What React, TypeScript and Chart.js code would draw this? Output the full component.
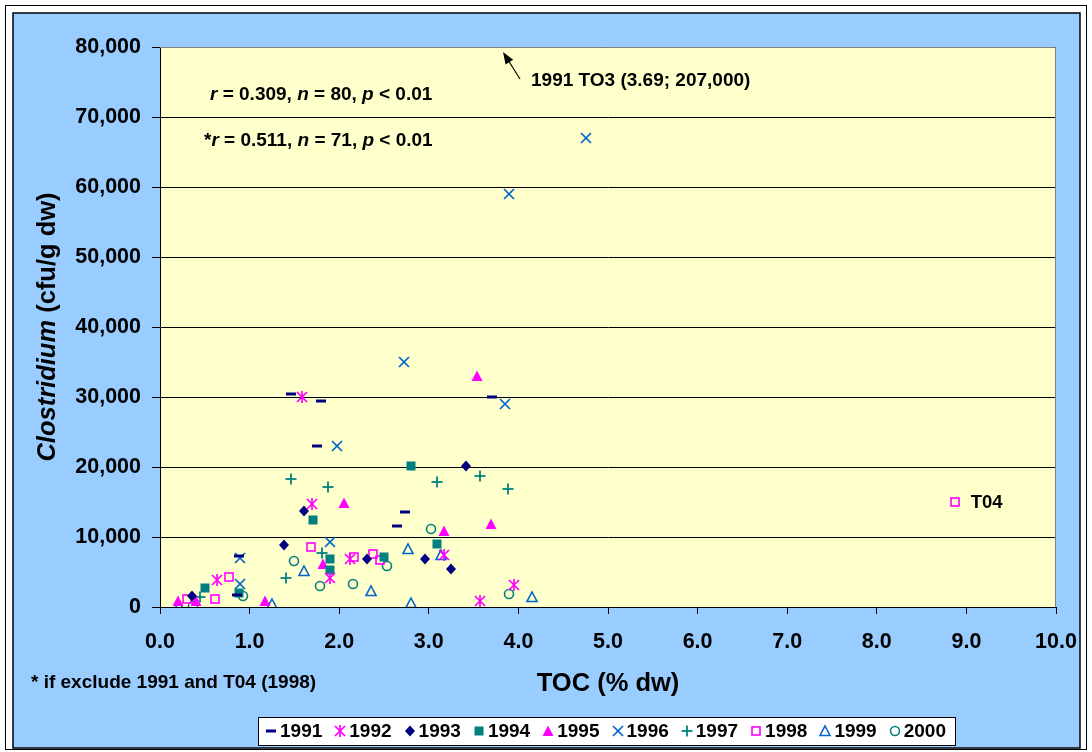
import { useEffect, useRef } from "react";
import { Chart, registerables } from "chart.js";

Chart.register(...registerables);

const W = 1092;
const H = 752;
const FONT = "'Liberation Sans', Arial, Helvetica, sans-serif";

// Sampling years (one scatter series each)
const years = ["1991", "1992", "1993", "1994", "1995", "1996", "1997", "1998", "1999", "2000"];

// TOC (% dw) and Clostridium (cfu/g dw) per year
const toc1991 = [1.46, 1.8, 1.75, 3.7, 2.73, 2.64, 0.88, 0.86];
const cfu1991 = [30400, 29400, 23000, 30000, 13600, 11600, 7300, 1700];

const toc1992 = [1.59, 1.7, 1.9, 0.64, 2.12, 3.17, 3.57, 3.95];
const cfu1992 = [30000, 14700, 4100, 3800, 6900, 7400, 800, 3100];

const toc1993 = [1.61, 1.38, 0.36, 2.31, 2.96, 3.25, 3.41];
const cfu1993 = [13700, 8900, 1600, 6900, 6900, 5500, 20100];

const toc1994 = [2.8, 1.71, 0.5, 0.88, 1.9, 1.9, 2.5, 3.09];
const cfu1994 = [20200, 12400, 2700, 2000, 6900, 5300, 7100, 9000];

const toc1995 = [3.54, 2.05, 3.17, 3.69, 1.82, 1.17, 0.2, 0.4];
const cfu1995 = [33000, 14900, 10800, 11900, 6100, 900, 900, 900];

const toc1996 = [4.75, 3.89, 2.72, 3.85, 1.98, 1.9, 0.89, 0.89];
const cfu1996 = [67000, 59000, 35000, 29000, 23000, 9300, 7000, 3300];

const toc1997 = [1.46, 1.88, 3.09, 3.57, 3.88, 1.41, 1.81, 0.45];
const cfu1997 = [18300, 17200, 17900, 18700, 16900, 4200, 7700, 1500];

const toc1998 = [8.87, 1.68, 0.77, 0.61, 0.3, 2.16, 2.38, 2.45];
const cfu1998 = [15000, 8600, 4300, 1200, 1200, 7100, 7600, 6700];

const toc1999 = [2.77, 1.61, 2.36, 2.8, 3.14, 4.15, 1.25, 0.21];
const cfu1999 = [8300, 5100, 2300, 600, 7400, 1500, 500, 200];

const toc2000 = [3.03, 1.5, 1.79, 2.15, 2.53, 3.9, 0.93, 0.37];
const cfu2000 = [11200, 6600, 3000, 3300, 5800, 1800, 1600, 200];

const tocSeries = [toc1991, toc1992, toc1993, toc1994, toc1995, toc1996, toc1997, toc1998, toc1999, toc2000];
const cfuSeries = [cfu1991, cfu1992, cfu1993, cfu1994, cfu1995, cfu1996, cfu1997, cfu1998, cfu1999, cfu2000];

const markerKinds = ["dash", "asterisk", "diamond", "square", "triangle", "cross", "plus", "openSquare", "openTriangle", "openCircle"];
const markerColors = ["#000080", "#FF00FF", "#000080", "#008080", "#FF00FF", "#0066CC", "#008080", "#FF00FF", "#0066CC", "#008080"];

// Axis ticks
const xTicks = [0, 1, 2, 3, 4, 5, 6, 7, 8, 9, 10];
const yTicks = [0, 10000, 20000, 30000, 40000, 50000, 60000, 70000, 80000];

// Text blocks
const xTitle = "TOC (% dw)";
const yTitleItalic = "Clostridium";
const yTitleRest = " (cfu/g dw)";
const footnote = "* if exclude 1991 and T04 (1998)";
const outlierNote = "1991 TO3 (3.69; 207,000)";
const t04Label = "T04";
const statsAll: [string, boolean][] = [["r", true], [" = 0.309, ", false], ["n", true], [" = 80, ", false], ["p", true], [" < 0.01", false]];
const statsSubset: [string, boolean][] = [["*", false], ["r", true], [" = 0.511, ", false], ["n", true], [" = 71, ", false], ["p", true], [" < 0.01", false]];

function makeMarker(kind: string, color: string): HTMLCanvasElement {
  const size = 16;
  const c = document.createElement("canvas");
  c.width = size;
  c.height = size;
  const g = c.getContext("2d") as CanvasRenderingContext2D;
  const m = size / 2;
  g.strokeStyle = color;
  g.fillStyle = color;
  g.lineWidth = 1.7;
  const line = (x1: number, y1: number, x2: number, y2: number) => {
    g.beginPath();
    g.moveTo(m + x1, m + y1);
    g.lineTo(m + x2, m + y2);
    g.stroke();
  };
  const poly = (pts: number[][], fill: boolean) => {
    g.beginPath();
    pts.forEach((p, i) => (i === 0 ? g.moveTo(m + p[0], m + p[1]) : g.lineTo(m + p[0], m + p[1])));
    g.closePath();
    if (fill) g.fill();
    else g.stroke();
  };
  switch (kind) {
    case "dash":
      g.fillRect(m - 5, m - 1.5, 10, 3);
      break;
    case "asterisk":
      line(-5, -5, 5, 5);
      line(-5, 5, 5, -5);
      line(0, -6, 0, 6);
      break;
    case "diamond":
      poly([[0, -5.5], [5, 0], [0, 5.5], [-5, 0]], true);
      break;
    case "square":
      g.fillRect(m - 4.5, m - 4.5, 9, 9);
      break;
    case "triangle":
      poly([[0, -5.5], [5.5, 5], [-5.5, 5]], true);
      break;
    case "cross":
      line(-5, -5, 5, 5);
      line(-5, 5, 5, -5);
      break;
    case "plus":
      g.lineWidth = 1.8;
      line(-5.5, 0, 5.5, 0);
      line(0, -5.5, 0, 5.5);
      break;
    case "openSquare":
      g.lineWidth = 1.6;
      g.strokeRect(m - 4, m - 4, 8, 8);
      break;
    case "openTriangle":
      g.lineWidth = 1.6;
      poly([[0, -5], [5, 4.5], [-5, 4.5]], false);
      break;
    case "openCircle":
      g.lineWidth = 1.6;
      g.beginPath();
      g.arc(m, m, 4.5, 0, Math.PI * 2);
      g.stroke();
      break;
  }
  return c;
}

function drawRich(
  ctx: CanvasRenderingContext2D,
  parts: [string, boolean][],
  x: number,
  y: number,
  size: number,
  align: "left" | "center" = "left"
) {
  const fontFor = (it: boolean) => `${it ? "italic " : ""}bold ${size}px ${FONT}`;
  let total = 0;
  for (const p of parts) {
    ctx.font = fontFor(p[1]);
    total += ctx.measureText(p[0]).width;
  }
  let cx = align === "center" ? x - total / 2 : x;
  ctx.textAlign = "left";
  ctx.textBaseline = "middle";
  ctx.fillStyle = "#000";
  for (const p of parts) {
    ctx.font = fontFor(p[1]);
    ctx.fillText(p[0], cx, y);
    cx += ctx.measureText(p[0]).width;
  }
}

export default function App() {
  const ref = useRef<HTMLCanvasElement>(null);

  useEffect(() => {
    const canvas = ref.current;
    if (!canvas) return;
    const markers = markerKinds.map((k, i) => makeMarker(k, markerColors[i]));

    const datasets = years.map((yr, i) => ({
      label: yr,
      data: tocSeries[i].map((x, j) => ({ x, y: cfuSeries[i][j] })),
      pointStyle: markers[i] as any,
      pointRadius: 5,
      pointHoverRadius: 5,
      showLine: false,
      borderColor: markerColors[i],
      backgroundColor: markerColors[i],
    }));

    const framePlugin = {
      id: "frame",
      beforeDraw(chart: any) {
        const ctx = chart.ctx as CanvasRenderingContext2D;
        const a = chart.chartArea;
        ctx.save();
        ctx.fillStyle = "#FFFFFF";
        ctx.fillRect(0, 0, W, H);
        ctx.strokeStyle = "#000";
        ctx.lineWidth = 1;
        ctx.strokeRect(5.5, 5.5, 1081, 744);
        ctx.fillStyle = "#99CCFF";
        ctx.fillRect(13, 13, 1067, 735);
        ctx.lineWidth = 1.5;
        ctx.strokeRect(13, 13, 1067, 735);
        ctx.fillStyle = "#FFFFCC";
        ctx.fillRect(a.left, a.top, a.right - a.left, a.bottom - a.top);
        ctx.restore();
      },
      beforeDatasetsDraw(chart: any) {
        const ctx = chart.ctx as CanvasRenderingContext2D;
        const a = chart.chartArea;
        ctx.save();
        ctx.strokeStyle = "#808080";
        ctx.lineWidth = 1;
        ctx.beginPath();
        ctx.moveTo(a.left, a.top + 0.5);
        ctx.lineTo(a.right - 0.5, a.top + 0.5);
        ctx.lineTo(a.right - 0.5, a.bottom);
        ctx.stroke();
        ctx.restore();
        ctx.imageSmoothingEnabled = false;
      },
      afterDraw(chart: any) {
        const ctx = chart.ctx as CanvasRenderingContext2D;
        const a = chart.chartArea;
        ctx.save();
        ctx.imageSmoothingEnabled = false;

        // axis titles
        drawRich(ctx, [[xTitle, false]], (a.left + a.right) / 2, 684, 25.5, "center");
        ctx.save();
        ctx.translate(48, 327);
        ctx.rotate(-Math.PI / 2);
        drawRich(ctx, [[yTitleItalic, true], [yTitleRest, false]], 0, 0, 25.5, "center");
        ctx.restore();

        // footnote and statistics
        drawRich(ctx, [[footnote, false]], 31, 683, 19);
        drawRich(ctx, statsAll, 210, 95, 19);
        drawRich(ctx, statsSubset, 204, 141, 19);

        // off-scale point note with arrow
        drawRich(ctx, [[outlierNote, false]], 531, 81, 19);
        const tail = { x: 520, y: 79 };
        const tip = { x: 503, y: 52 };
        const ang = Math.atan2(tip.y - tail.y, tip.x - tail.x);
        ctx.strokeStyle = "#000";
        ctx.fillStyle = "#000";
        ctx.lineWidth = 1.2;
        ctx.beginPath();
        ctx.moveTo(tail.x, tail.y);
        ctx.lineTo(tip.x - Math.cos(ang) * 8, tip.y - Math.sin(ang) * 8);
        ctx.stroke();
        ctx.beginPath();
        ctx.moveTo(tip.x, tip.y);
        ctx.lineTo(tip.x - Math.cos(ang) * 12 + Math.sin(ang) * 4.5, tip.y - Math.sin(ang) * 12 - Math.cos(ang) * 4.5);
        ctx.lineTo(tip.x - Math.cos(ang) * 12 - Math.sin(ang) * 4.5, tip.y - Math.sin(ang) * 12 + Math.cos(ang) * 4.5);
        ctx.closePath();
        ctx.fill();

        // label beside the 1998 T04 sample
        const meta = chart.getDatasetMeta(7);
        const pt = meta.data[0];
        drawRich(ctx, [[t04Label, false]], pt.x + 16, pt.y + 1, 18.5);

        // legend
        const lx = 258.5, ly = 717.5, lw = 697, lh = 28;
        ctx.fillStyle = "#FFFFFF";
        ctx.fillRect(lx, ly, lw, lh);
        ctx.strokeStyle = "#000";
        ctx.lineWidth = 1;
        ctx.strokeRect(lx, ly, lw, lh);
        const cy = 731;
        years.forEach((yr, i) => {
          const start = 264 + i * 69.3;
          const mk = markers[i];
          ctx.drawImage(mk, Math.round(start + 7 - mk.width / 2), Math.round(cy - mk.height / 2));
          drawRich(ctx, [[yr, false]], start + 16, cy + 0.5, 19);
        });
        ctx.restore();
      },
    };

    const tickFont = { family: FONT, size: 21.5, weight: "bold" as const };

    const chart = new Chart(canvas, {
      type: "scatter",
      data: { datasets },
      options: {
        responsive: false,
        animation: false,
        devicePixelRatio: 1,
        layout: { padding: { left: 14, top: 47, right: 36, bottom: 89 } },
        plugins: {
          legend: { display: false },
          tooltip: { enabled: false },
        },
        scales: {
          x: {
            type: "linear",
            min: 0,
            max: 10,
            afterBuildTicks: (s: any) => {
              s.ticks = xTicks.map((v) => ({ value: v }));
            },
            afterFit: (s: any) => {
              s.height = 56;
            },
            ticks: {
              callback: (v: any) => Number(v).toFixed(1),
              font: tickFont,
              color: "#000",
              padding: 15,
              maxRotation: 0,
              autoSkip: false,
            },
            grid: { drawOnChartArea: false, drawTicks: true, tickLength: 7, color: "#000", lineWidth: 1 },
            border: { color: "#000", width: 1 },
          },
          y: {
            type: "linear",
            min: 0,
            max: 80000,
            afterBuildTicks: (s: any) => {
              s.ticks = yTicks.map((v) => ({ value: v }));
            },
            afterFit: (s: any) => {
              s.width = 146;
            },
            ticks: {
              callback: (v: any) => Number(v).toLocaleString("en-US"),
              font: tickFont,
              color: "#000",
              padding: 11,
              autoSkip: false,
            },
            grid: { color: "#000", lineWidth: 1, tickLength: 8, drawTicks: true },
            border: { color: "#000", width: 1 },
          },
        },
      },
      plugins: [framePlugin],
    });

    return () => chart.destroy();
  }, []);

  return (
    <div style={{ position: "fixed", left: 0, top: 0, width: W, height: H, background: "#fff" }}>
      <canvas ref={ref} width={W} height={H} style={{ display: "block", width: W, height: H }} />
    </div>
  );
}
